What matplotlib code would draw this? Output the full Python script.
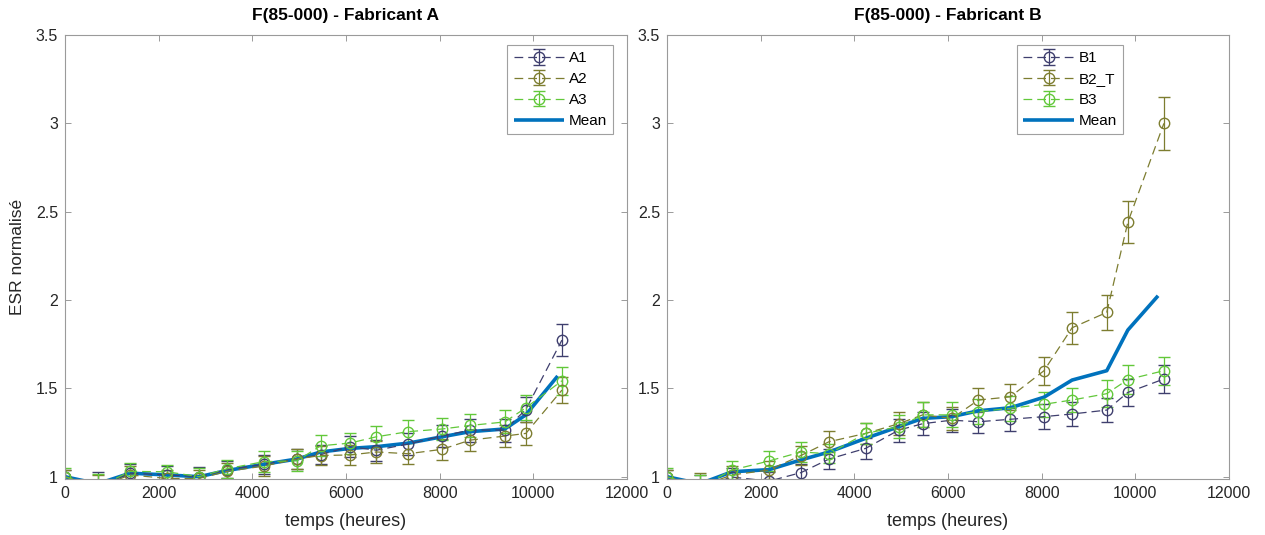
import matplotlib
matplotlib.use("Agg")
import matplotlib.pyplot as plt
from matplotlib.ticker import FuncFormatter

plt.rcParams['font.family'] = ['Liberation Sans', 'DejaVu Sans']

# ---------------- data ----------------
t = [0, 700, 1390, 2180, 2860, 3460, 4240, 4950, 5460, 6080, 6650, 7330, 8050, 8650, 9390, 9840, 10610]

A1 = [1.0, 0.945, 1.02, 1.01, 1.0, 1.04, 1.07, 1.10, 1.125, 1.17, 1.15, 1.185, 1.23, 1.264, 1.264, 1.38, 1.773]
A2 = [1.0, 0.94, 1.01, 0.99, 0.99, 1.03, 1.06, 1.10, 1.12, 1.123, 1.14, 1.13, 1.155, 1.207, 1.23, 1.245, 1.49]
A3 = [1.0, 0.94, 1.03, 1.028, 1.0, 1.045, 1.085, 1.09, 1.175, 1.19, 1.226, 1.255, 1.27, 1.29, 1.31, 1.39, 1.543]
A1_err = [0.04, 0.083, 0.05, 0.05, 0.055, 0.05, 0.055, 0.055, 0.055, 0.06, 0.06, 0.06, 0.06, 0.065, 0.065, 0.07, 0.09]
A2_err = [0.04, 0.07, 0.05, 0.05, 0.05, 0.05, 0.055, 0.055, 0.055, 0.055, 0.06, 0.06, 0.06, 0.06, 0.06, 0.065, 0.075]
A3_err = [0.05, 0.075, 0.05, 0.04, 0.05, 0.05, 0.06, 0.055, 0.06, 0.06, 0.06, 0.065, 0.065, 0.065, 0.065, 0.07, 0.08]
tA_mean = [0, 700, 1390, 2180, 2860, 3460, 4240, 4950, 5460, 6080, 6650, 7330, 8050, 8650, 9390, 9840, 10520]
A_mean = [1.0, 0.96, 1.02, 1.01, 1.0, 1.035, 1.07, 1.10, 1.14, 1.16, 1.17, 1.19, 1.226, 1.255, 1.27, 1.35, 1.57]

B1 = [1.0, 0.94, 0.998, 0.975, 1.023, 1.10, 1.16, 1.264, 1.30, 1.32, 1.311, 1.325, 1.34, 1.355, 1.377, 1.477, 1.553]
B2 = [1.0, 0.945, 1.01, 1.038, 1.12, 1.198, 1.245, 1.30, 1.35, 1.33, 1.434, 1.452, 1.60, 1.843, 1.93, 2.44, 3.0]
B3 = [1.0, 0.94, 1.038, 1.089, 1.14, 1.13, 1.245, 1.283, 1.35, 1.35, 1.368, 1.387, 1.41, 1.434, 1.47, 1.55, 1.60]
B1_err = [0.04, 0.07, 0.05, 0.05, 0.05, 0.055, 0.06, 0.065, 0.065, 0.065, 0.065, 0.065, 0.07, 0.07, 0.07, 0.075, 0.08]
B2_err = [0.04, 0.075, 0.05, 0.05, 0.055, 0.06, 0.06, 0.065, 0.07, 0.065, 0.07, 0.075, 0.08, 0.09, 0.10, 0.12, 0.15]
B3_err = [0.05, 0.07, 0.05, 0.055, 0.055, 0.055, 0.06, 0.065, 0.07, 0.07, 0.07, 0.07, 0.07, 0.07, 0.075, 0.08, 0.08]
tB_mean = [0, 700, 1390, 2180, 2860, 3460, 4240, 4950, 5460, 6080, 6650, 7330, 8050, 8650, 9390, 9840, 10485]
B_mean = [1.0, 0.96, 1.028, 1.04, 1.095, 1.14, 1.217, 1.283, 1.33, 1.34, 1.373, 1.39, 1.45, 1.547, 1.60, 1.83, 2.024]

xticks = [0, 2000, 4000, 6000, 8000, 10000, 12000]
yticks = [1, 1.5, 2, 2.5, 3, 3.5]

c_navy = '#3f3f6e'
c_olive = '#7d7d30'
c_green = '#62c83a'
c_mean = '#0072BD'
axis_col = '#9a9a9a'
text_col = '#262626'

fig = plt.figure(figsize=(12.65, 5.35), dpi=100)
ax1 = fig.add_axes([65/1265, 56/535, 562/1265, 444/535])
ax2 = fig.add_axes([667/1265, 56/535, 562/1265, 444/535])


def panel(ax, series, errs, labels, colors, tm, mean, title, legend_anchor):
    handles = []
    for y, e, lab, c in zip(series, errs, labels, colors):
        h = ax.errorbar(t, y, yerr=e, fmt='o', linestyle=(0, (7, 4)), color=c,
                        mfc='none', mec=c, ms=7.5, mew=1.0, lw=0.9,
                        elinewidth=0.9, capsize=4.5, capthick=0.9, label=lab)
        handles.append(h)
    hm, = ax.plot(tm, mean, color=c_mean, lw=2.6, label='Mean', solid_capstyle='butt')
    handles.append(hm)
    ax.set_xlim(0, 12000)
    ax.set_ylim(0.987, 3.5)
    ax.set_xticks(xticks)
    ax.set_yticks(yticks)
    ax.yaxis.set_major_formatter(FuncFormatter(lambda v, p: f"{v:g}"))
    ax.tick_params(direction='in', length=4, width=0.7, color=axis_col,
                   labelcolor=text_col, labelsize=11.5, top=True, right=True,
                   pad=5)
    for s in ax.spines.values():
        s.set_color(axis_col)
        s.set_linewidth(0.8)
    ax.set_title(title, fontsize=12.5, fontweight='bold', color='black', pad=11)
    ax.set_xlabel('temps (heures)', fontsize=13, color=text_col, labelpad=9)
    leg = ax.legend(handles=handles, labels=labels + ['Mean'],
                    loc='upper right', bbox_to_anchor=legend_anchor,
                    fontsize=11, frameon=True, fancybox=False, framealpha=1,
                    edgecolor='#a0a0a0', handlelength=3.3, borderpad=0.4,
                    labelspacing=0.45, handletextpad=0.3, borderaxespad=0)
    leg.get_frame().set_linewidth(0.8)


panel(ax1, [A1, A2, A3], [A1_err, A2_err, A3_err], ['A1', 'A2', 'A3'],
      [c_navy, c_olive, c_green], tA_mean, A_mean,
      'F(85-000) - Fabricant A', (0.975, 0.977))
panel(ax2, [B1, B2, B3], [B1_err, B2_err, B3_err], ['B1', 'B2_T', 'B3'],
      [c_navy, c_olive, c_green], tB_mean, B_mean,
      'F(85-000) - Fabricant B', (0.811, 0.977))

ax1.set_ylabel('ESR normalisé', fontsize=12.5, color=text_col, labelpad=8)

fig.savefig('out.png', dpi=100)
